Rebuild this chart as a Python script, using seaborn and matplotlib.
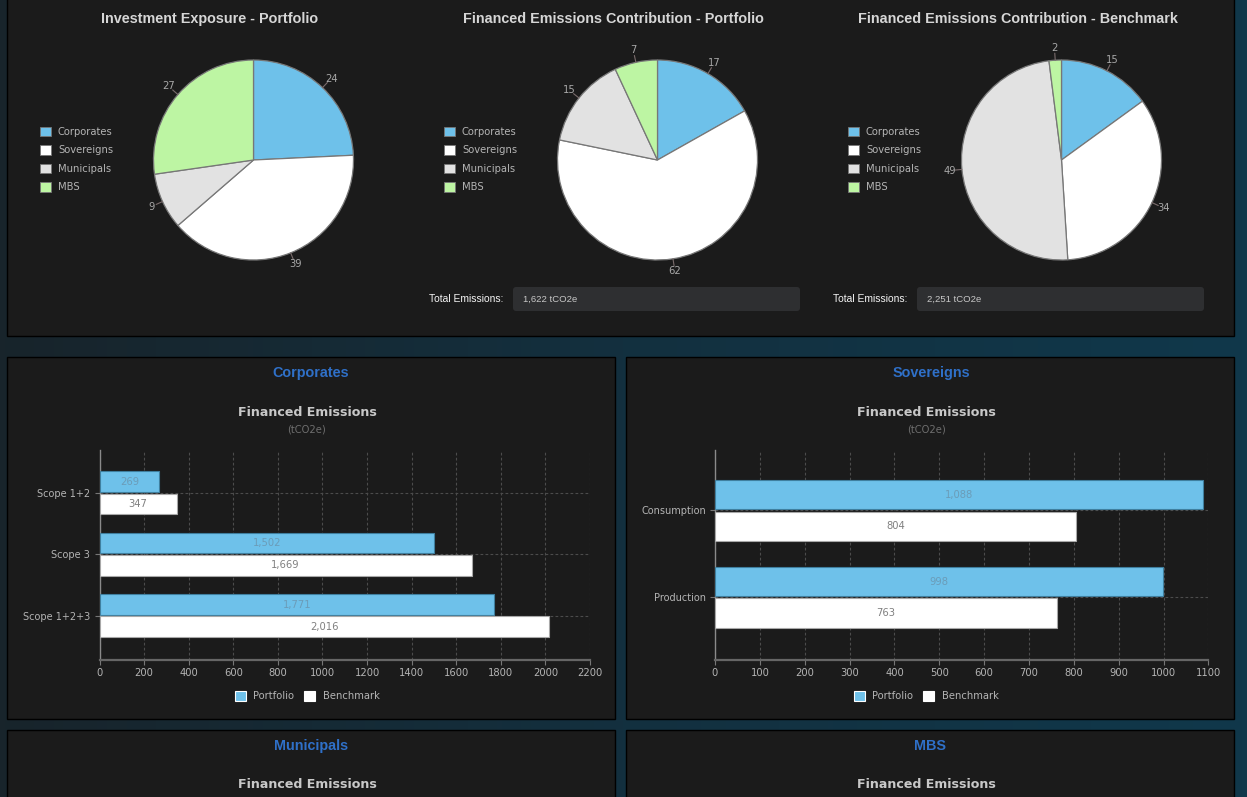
import numpy as np
import pandas as pd
import matplotlib
matplotlib.use("Agg")
import matplotlib.pyplot as plt
from matplotlib.colors import LinearSegmentedColormap
from matplotlib.patches import Rectangle, FancyBboxPatch
import seaborn as sns

# Data
sectors = ["Corporates", "Sovereigns", "Municipals", "MBS"]
exposure_portfolio = [24, 39, 9, 27]
contribution_portfolio = [17, 62, 15, 7]
contribution_benchmark = [15, 34, 49, 2]

pie_titles = ["Investment Exposure - Portfolio",
              "Financed Emissions Contribution - Portfolio",
              "Financed Emissions Contribution - Benchmark"]
total_emissions = ["1,622 tCO2e", "2,251 tCO2e"]

corp_scopes = ["Scope 1+2", "Scope 3", "Scope 1+2+3"]
corp_portfolio = [269, 1502, 1771]
corp_benchmark = [347, 1669, 2016]
corp_ticks = list(range(0, 2201, 200))

sov_scopes = ["Consumption", "Production"]
sov_portfolio = [1088, 998]
sov_benchmark = [804, 763]
sov_ticks = list(range(0, 1101, 100))

# Colours
PAGE = "#11293a"
PANEL = "#1b1b1b"
BLUE = "#6ec1ea"
WHITE = "#ffffff"
GREY = "#e2e2e2"
GREEN = "#bdf5a3"
HEAD = "#2f70c8"
pie_colors = [BLUE, WHITE, GREY, GREEN]

sns.set_theme(style="dark", rc={"figure.facecolor": PAGE, "axes.facecolor": "none"})
plt.rcParams["font.family"] = ["DejaVu Sans"]

W, H = 1247, 797
fig = plt.figure(figsize=(W / 100, H / 100), dpi=100)

# full page axes in pixel coords, for panels and headings
bg = fig.add_axes([0, 0, 1, 1])
page_cmap = LinearSegmentedColormap.from_list("page", ["#18242b", "#13303f", "#10384b"])
bg.imshow(np.linspace(0, 1, 256)[None, :], extent=(0, W, H, 0), aspect="auto", cmap=page_cmap, zorder=0)
bg.set_xlim(0, W)
bg.set_ylim(H, 0)
bg.axis("off")


def px_axes(left, top, right, bottom):
    return fig.add_axes([left / W, 1 - bottom / H, (right - left) / W, (bottom - top) / H])


def panel(x0, y0, x1, y1):
    bg.add_patch(Rectangle((x0, y0), x1 - x0, y1 - y0, fc=PANEL, ec="#000000", lw=1, zorder=1))


panel(7, -5, 1234, 336)
panel(7, 357, 615, 719)
panel(626, 357, 1234, 719)
panel(7, 730, 615, 810)
panel(626, 730, 1234, 810)


def draw_pie(values, title, cx, title_x):
    bg.text(title_x, 19, title, color="#d6d6d6", fontsize=10.4, fontweight="bold",
            family="Liberation Sans", ha="center", va="center", zorder=2)
    ax = px_axes(cx - 130, 30, cx + 130, 290)
    wedges, _ = ax.pie(values, colors=pie_colors, startangle=90, counterclock=False, radius=1,
                       wedgeprops={"edgecolor": "#777777", "linewidth": 0.9})
    ax.set_xlim(-1.3, 1.3)
    ax.set_ylim(-1.3, 1.3)
    ax.set_aspect("equal")
    # value labels with short leader lines
    for w, v in zip(wedges, values):
        ang = np.deg2rad((w.theta1 + w.theta2) / 2)
        c, s = np.cos(ang), np.sin(ang)
        ax.plot([c, 1.07 * c], [s, 1.07 * s], color="#7a6c6c", lw=0.8, clip_on=False)
        ax.text(1.125 * c, 1.125 * s, str(v), color="#a8a8a8", fontsize=7.2, ha="center", va="center")
    leg = ax.legend(wedges, sectors, loc="upper left",
                    bbox_to_anchor=((cx - 214) / W, 1 - 126.5 / H), bbox_transform=fig.transFigure,
                    frameon=False, fontsize=7.2, labelcolor="#b4b4b4", handlelength=1.1, handleheight=1.1,
                    handletextpad=0.75, labelspacing=0.84, borderpad=0, borderaxespad=0)
    for h in leg.legend_handles:
        h.set_edgecolor("#777777")
        h.set_linewidth(0.6)


draw_pie(exposure_portfolio, pie_titles[0], 253.5, 209.5)
draw_pie(contribution_portfolio, pie_titles[1], 657.5, 613.5)
draw_pie(contribution_benchmark, pie_titles[2], 1061.5, 1017.5)

# total emissions boxes
for x0, x1, val in zip([513, 917], [800, 1204], total_emissions):
    bg.add_patch(FancyBboxPatch((x0 + 3, 290), x1 - x0 - 6, 18,
                                boxstyle="round,pad=3", fc="#2e2f31", ec="none", zorder=2))
    bg.text(x0 - 10, 299, "Total Emissions:", color="#f4f4f4", fontsize=7.4,
            family="Liberation Sans", ha="right", va="center", zorder=3)
    bg.text(x0 + 10, 299, val, color="#c8c8c8", fontsize=6.8,
            family="Liberation Sans", ha="left", va="center", zorder=3)


def draw_bars(scopes, portfolio, benchmark, ticks, left, right, cx, head_x, head):
    bg.text(head_x, 373, head, color=HEAD, fontsize=10.4, fontweight="bold",
            family="Liberation Sans", ha="center", va="center", zorder=2)
    bg.text(cx, 412, "Financed Emissions", color="#c8c8c8", fontsize=9.1, fontweight="bold",
            ha="center", va="center", zorder=2)
    bg.text(cx, 429, "(tCO2e)", color="#6e6e6e", fontsize=7.2, ha="center", va="center", zorder=2)

    df = pd.DataFrame({
        "scope": scopes * 2,
        "value": portfolio + benchmark,
        "series": ["Portfolio"] * len(scopes) + ["Benchmark"] * len(scopes),
    })
    ax = px_axes(left, 450, right, 660)
    sns.barplot(data=df, y="scope", x="value", hue="series", orient="h", ax=ax,
                palette={"Portfolio": BLUE, "Benchmark": WHITE}, saturation=1, width=0.72, gap=0.07,
                linewidth=0.8, zorder=3)
    n = len(scopes)
    ax.set_ylim(n - 1 + 0.72, -0.695)
    ax.set_xlim(0, ticks[-1])
    ax.set_xticks(ticks)
    ax.set_xlabel("")
    ax.set_ylabel("")
    ax.tick_params(axis="both", labelcolor="#b4b4b4", color="#777777", length=3.6, width=0.8, pad=3,
                   bottom=True, left=True)
    ax.tick_params(axis="x", labelsize=7.2, pad=2.5)
    ax.tick_params(axis="y", labelsize=7)
    ax.grid(True, color="#4c4c4c", linestyle=(0, (2.5, 2)), linewidth=0.8, zorder=0)
    ax.set_axisbelow(True)
    for side in ["top", "right"]:
        ax.spines[side].set_visible(False)
    ax.spines["left"].set_color("#8a8a8a")
    ax.spines["left"].set_linewidth(1)
    ax.spines["bottom"].set_color("#666666")
    ax.spines["bottom"].set_linewidth(1.6)

    # value labels centred in each bar
    for cont, col, edge in zip(ax.containers, ["#6b9cb8", "#808080"], ["#3f7f9f", "#a8a8a8"]):
        for b in cont:
            b.set_edgecolor(edge)
        ax.bar_label(cont, labels=[f"{b.get_width():,.0f}" for b in cont], label_type="center",
                     color=col, fontsize=7.2)

    handles, labels = ax.get_legend_handles_labels()
    ax.legend(handles, labels, loc="center", ncol=2, bbox_to_anchor=(cx / W, 1 - 696 / H),
              bbox_transform=fig.transFigure, frameon=False, fontsize=7.2, labelcolor="#b4b4b4",
              handlelength=1.1, handleheight=1.1, handletextpad=0.75, columnspacing=1.0,
              borderpad=0, borderaxespad=0)


draw_bars(corp_scopes, corp_portfolio, corp_benchmark, corp_ticks, 99.5, 590, 307, 311, "Corporates")
draw_bars(sov_scopes, sov_portfolio, sov_benchmark, sov_ticks, 715, 1208.5, 926, 931, "Sovereigns")

# bottom row, cut off by the page edge
for cx, head_x, head in [(307, 311, "Municipals"), (926, 930, "MBS")]:
    bg.text(head_x, 746, head, color=HEAD, fontsize=10.4, fontweight="bold",
            family="Liberation Sans", ha="center", va="center", zorder=2)
    bg.text(cx, 785, "Financed Emissions", color="#c8c8c8", fontsize=9.1, fontweight="bold",
            ha="center", va="center", zorder=2)

fig.savefig("out.png", dpi=100, facecolor=PAGE)
